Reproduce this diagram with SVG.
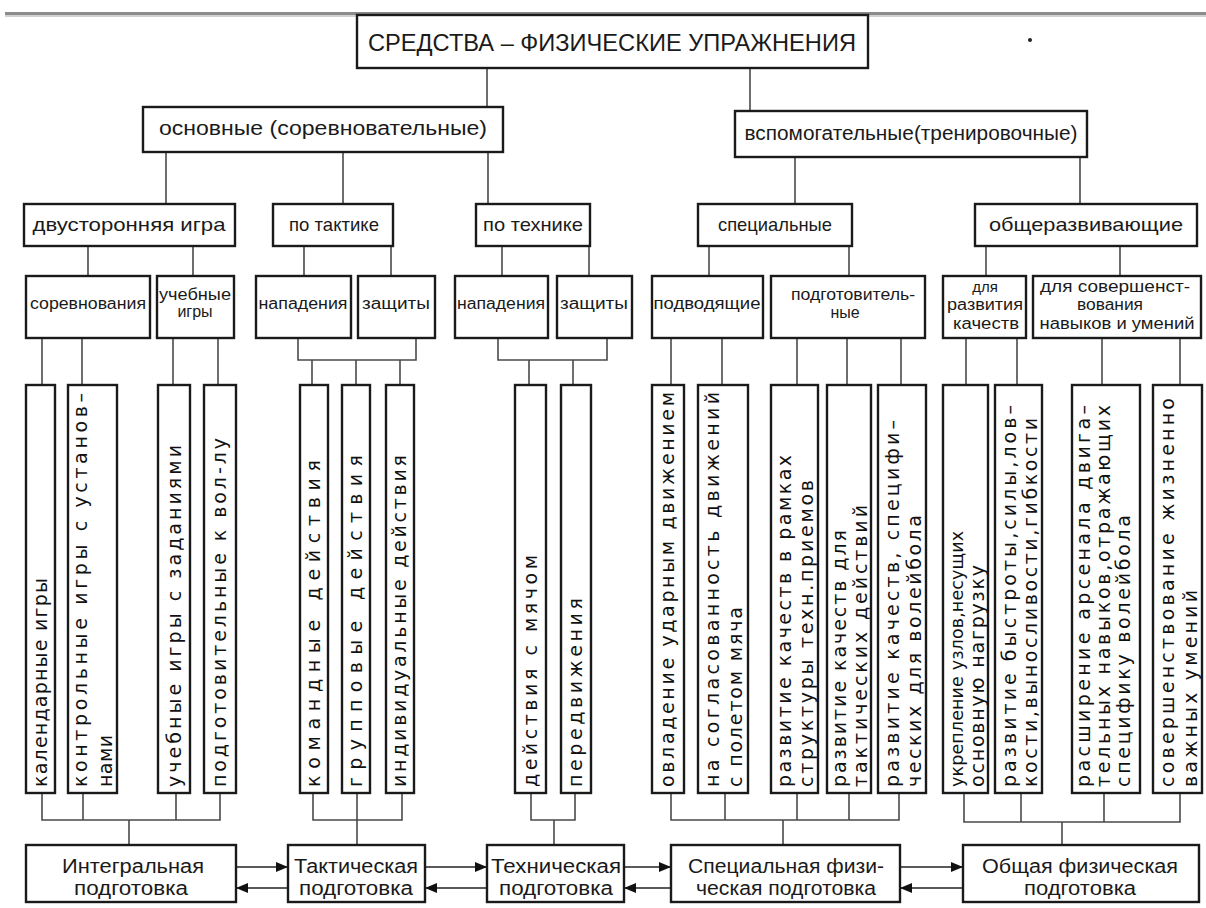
<svg xmlns="http://www.w3.org/2000/svg" width="1206" height="908" viewBox="0 0 1206 908">
<defs>
<style>
.box{fill:#fff;stroke:#1a1a1a;stroke-width:2.4}
.c{fill:none;stroke:#4a4a4a;stroke-width:1.6}
.a{fill:none;stroke:#222;stroke-width:1.6}
.h{font-family:"Liberation Sans Narrow","Liberation Sans",Arial,sans-serif;fill:#1a1a1a;text-anchor:middle}
.v{font-family:"DejaVu Sans","Liberation Sans",Arial,sans-serif;font-size:19px;fill:#111}
</style>
<marker id="ah" viewBox="0 0 12 10" refX="12" refY="5" markerWidth="12" markerHeight="10" markerUnits="userSpaceOnUse" orient="auto">
<path d="M0,0 L12,5 L0,10 Z" fill="#111"/>
</marker>
</defs>
<rect width="1206" height="908" fill="#fff"/>
<line x1="5" y1="13.5" x2="1206" y2="13.5" stroke="#8c8c8c" stroke-width="3"/>
<line x1="5" y1="16" x2="1206" y2="16" stroke="#d0d0d0" stroke-width="2"/>
<circle cx="1030" cy="40" r="2" fill="#222"/>

<g id="connectors">
<path class="c" d="M487,68 V107 M750,68 V111"/>
<path class="c" d="M166,152 V204 M343,152 V204 M488,152 V204"/>
<path class="c" d="M795,157 V204 M1080,157 V204"/>
<path class="c" d="M88,246 V276 M193,246 V276 M304,246 V276 M391,246 V276 M502,246 V276 M589,246 V276 M709,246 V276 M849,246 V276 M986,246 V276 M1120,246 V276"/>
<path class="c" d="M42,338 V385 M82,338 V385 M173,338 V385 M218,338 V385"/>
<path class="c" d="M298,338 V360 H416 V338 M312,360 V385 M356,360 V385 M400,360 V385"/>
<path class="c" d="M498,338 V360 H607 V338 M529,360 V385 M573,360 V385"/>
<path class="c" d="M671,338 V385 M722,338 V385 M797,338 V385 M847,338 V385 M901,338 V385"/>
<path class="c" d="M966,338 V385 M1017,338 V385 M1102,338 V385 M1180,338 V385"/>
<path class="c" d="M42,793 V820 H220 V793 M83,793 V820 M176,793 V820 M129,820 V845"/>
<path class="c" d="M313,793 V820 H402 V793 M357,793 V845"/>
<path class="c" d="M531,793 V820 H575 V793 M554,820 V845"/>
<path class="c" d="M671,793 V820 H899 V793 M725,793 V820 M797,793 V820 M849,793 V820 M783,820 V845"/>
<path class="c" d="M964,793 V822 H1180 V793 M1021,793 V822 M1104,793 V822 M1062,822 V845"/>
<path class="a" d="M236,867 H288" marker-end="url(#ah)"/>
<path class="a" d="M288,888 H236" marker-end="url(#ah)"/>
<path class="a" d="M425,867 H487" marker-end="url(#ah)"/>
<path class="a" d="M487,888 H425" marker-end="url(#ah)"/>
<path class="a" d="M624,867 H671" marker-end="url(#ah)"/>
<path class="a" d="M671,888 H624" marker-end="url(#ah)"/>
<path class="a" d="M900,867 H963" marker-end="url(#ah)"/>
<path class="a" d="M963,888 H900" marker-end="url(#ah)"/>
</g>

<g id="title"><rect class="box" x="357" y="15" width="511" height="53"/><text class="h" x="612" y="51" font-size="24" textLength="488" lengthAdjust="spacingAndGlyphs">СРЕДСТВА – ФИЗИЧЕСКИЕ УПРАЖНЕНИЯ</text></g>

<g id="osnovnye"><rect class="box" x="143" y="107" width="360" height="45"/><text class="h" x="323" y="135" font-size="20" textLength="328" lengthAdjust="spacingAndGlyphs">основные (соревновательные)</text></g>
<g id="vspomog"><rect class="box" x="735" y="111" width="352" height="46"/><text class="h" x="911" y="140" font-size="20" textLength="333" lengthAdjust="spacingAndGlyphs">вспомогательные(тренировочные)</text></g>

<g id="dvustor"><rect class="box" x="24" y="204" width="211" height="42"/><text class="h" x="129" y="231" font-size="19" textLength="193" lengthAdjust="spacingAndGlyphs">двусторонняя игра</text></g>
<g id="taktika"><rect class="box" x="273" y="204" width="120" height="42"/><text class="h" x="334" y="231" font-size="19" textLength="90" lengthAdjust="spacingAndGlyphs">по тактике</text></g>
<g id="tehnika"><rect class="box" x="476" y="204" width="114" height="42"/><text class="h" x="533" y="231" font-size="19" textLength="100" lengthAdjust="spacingAndGlyphs">по технике</text></g>
<g id="specialnye"><rect class="box" x="698" y="204" width="154" height="42"/><text class="h" x="775" y="231" font-size="19" textLength="114" lengthAdjust="spacingAndGlyphs">специальные</text></g>
<g id="obscherazv"><rect class="box" x="975" y="204" width="222" height="42"/><text class="h" x="1086" y="231" font-size="19" textLength="194" lengthAdjust="spacingAndGlyphs">общеразвивающие</text></g>

<g id="sorevnovaniya"><rect class="box" x="26" y="276" width="124" height="62"/><text class="h" x="88" y="309" font-size="16" textLength="116" lengthAdjust="spacingAndGlyphs">соревнования</text></g>
<g id="uchebnye"><rect class="box" x="157" y="276" width="77" height="62"/><text class="h" x="195" y="300" font-size="16" textLength="72" lengthAdjust="spacingAndGlyphs">учебные</text><text class="h" x="195" y="317" font-size="16">игры</text></g>
<g id="napadeniya1"><rect class="box" x="256" y="276" width="95" height="62"/><text class="h" x="303" y="309" font-size="16" textLength="89" lengthAdjust="spacingAndGlyphs">нападения</text></g>
<g id="zaschity1"><rect class="box" x="358" y="276" width="77" height="62"/><text class="h" x="396" y="309" font-size="16" textLength="68" lengthAdjust="spacingAndGlyphs">защиты</text></g>
<g id="napadeniya2"><rect class="box" x="455" y="276" width="93" height="62"/><text class="h" x="501" y="309" font-size="16" textLength="88" lengthAdjust="spacingAndGlyphs">нападения</text></g>
<g id="zaschity2"><rect class="box" x="557" y="276" width="75" height="62"/><text class="h" x="594" y="309" font-size="16" textLength="68" lengthAdjust="spacingAndGlyphs">защиты</text></g>
<g id="podvodyaschie"><rect class="box" x="652" y="276" width="111" height="62"/><text class="h" x="707" y="309" font-size="16" textLength="107" lengthAdjust="spacingAndGlyphs">подводящие</text></g>
<g id="podgotovit"><rect class="box" x="771" y="276" width="154" height="62"/><text class="h" x="853" y="300" font-size="16" textLength="124" lengthAdjust="spacingAndGlyphs">подготовитель-</text><text class="h" x="845" y="318" font-size="16">ные</text></g>
<g id="dlya_razv"><rect class="box" x="943" y="276" width="83" height="62"/><text class="h" x="985" y="292" font-size="15">для</text><text class="h" x="985" y="310" font-size="16" textLength="76" lengthAdjust="spacingAndGlyphs">развития</text><text class="h" x="986" y="329" font-size="16" textLength="66" lengthAdjust="spacingAndGlyphs">качеств</text></g>
<g id="dlya_sov"><rect class="box" x="1033" y="276" width="168" height="62"/><text class="h" x="1115" y="292" font-size="16" textLength="150" lengthAdjust="spacingAndGlyphs">для совершенст-</text><text class="h" x="1110" y="310" font-size="16" textLength="66" lengthAdjust="spacingAndGlyphs">вования</text><text class="h" x="1117" y="329" font-size="16" textLength="155" lengthAdjust="spacingAndGlyphs">навыков и умений</text></g>

<g id="v1"><rect class="box" x="26" y="385" width="29" height="408"/><text class="v" transform="translate(47,787) rotate(-90)" textLength="209" lengthAdjust="spacing">календарные  игры</text></g>
<g id="v2"><rect class="box" x="68" y="385" width="49" height="408"/><text class="v" transform="translate(87,787) rotate(-90)" textLength="394" lengthAdjust="spacing">контрольные игры с установ–</text><text class="v" transform="translate(112,787) rotate(-90)" textLength="52" lengthAdjust="spacing">нами</text></g>
<g id="v3"><rect class="box" x="158" y="385" width="32" height="408"/><text class="v" transform="translate(181,787) rotate(-90)" textLength="342" lengthAdjust="spacing">учебные игры с  заданиями</text></g>
<g id="v4"><rect class="box" x="204" y="385" width="32" height="408"/><text class="v" transform="translate(226,787) rotate(-90)" textLength="349" lengthAdjust="spacing">подготовительные  к  вол-лу</text></g>
<g id="v5"><rect class="box" x="300" y="385" width="28" height="408"/><text class="v" transform="translate(320,787) rotate(-90)" textLength="327" lengthAdjust="spacing">командные действия</text></g>
<g id="v6"><rect class="box" x="342" y="385" width="28" height="408"/><text class="v" transform="translate(362,787) rotate(-90)" textLength="332" lengthAdjust="spacing">групповые действия</text></g>
<g id="v7"><rect class="box" x="386" y="385" width="28" height="408"/><text class="v" transform="translate(406,787) rotate(-90)" textLength="332" lengthAdjust="spacing">индивидуальные действия</text></g>
<g id="v8"><rect class="box" x="515" y="385" width="31" height="408"/><text class="v" transform="translate(537,787) rotate(-90)" textLength="232" lengthAdjust="spacing">действия с мячом</text></g>
<g id="v9"><rect class="box" x="561" y="385" width="30" height="408"/><text class="v" transform="translate(582,787) rotate(-90)" textLength="189" lengthAdjust="spacing">передвижения</text></g>
<g id="v10"><rect class="box" x="652" y="385" width="32" height="408"/><text class="v" transform="translate(674,787) rotate(-90)" textLength="395" lengthAdjust="spacing">овладение ударным  движением</text></g>
<g id="v11"><rect class="box" x="698" y="385" width="50" height="408"/><text class="v" transform="translate(719,787) rotate(-90)" textLength="395" lengthAdjust="spacing">на согласованность движений</text><text class="v" transform="translate(742,787) rotate(-90)" textLength="180" lengthAdjust="spacing">с полетом мяча</text></g>
<g id="v12"><rect class="box" x="771" y="385" width="47" height="408"/><text class="v" transform="translate(791,787) rotate(-90)" textLength="332" lengthAdjust="spacing">развитие качеств в рамках</text><text class="v" transform="translate(813,787) rotate(-90)" textLength="307" lengthAdjust="spacing">структуры техн.приемов</text></g>
<g id="v13"><rect class="box" x="827" y="385" width="44" height="408"/><text class="v" transform="translate(846,787) rotate(-90)" textLength="257" lengthAdjust="spacing">развитие качеств для</text><text class="v" transform="translate(867,787) rotate(-90)" textLength="282" lengthAdjust="spacing">тактических действий</text></g>
<g id="v14"><rect class="box" x="878" y="385" width="48" height="408"/><text class="v" transform="translate(899,787) rotate(-90)" textLength="367" lengthAdjust="spacing">развитие качеств, специфи–</text><text class="v" transform="translate(921,787) rotate(-90)" textLength="272" lengthAdjust="spacing">ческих для волейбола</text></g>
<g id="v15"><rect class="box" x="943" y="385" width="45" height="408"/><text class="v" style="font-size:17.5px" transform="translate(963,787) rotate(-90)" textLength="256" lengthAdjust="spacing">укрепление узлов,несущих</text><text class="v" transform="translate(984,787) rotate(-90)" textLength="222" lengthAdjust="spacing">основную нагрузку</text></g>
<g id="v16"><rect class="box" x="995" y="385" width="47" height="408"/><text class="v" transform="translate(1016,787) rotate(-90)" textLength="382" lengthAdjust="spacing">развитие быстроты,силы,лов–</text><text class="v" transform="translate(1037,787) rotate(-90)" textLength="369" lengthAdjust="spacing">кости,выносливости,гибкости</text></g>
<g id="v17"><rect class="box" x="1072" y="385" width="68" height="408"/><text class="v" transform="translate(1090,787) rotate(-90)" textLength="382" lengthAdjust="spacing">расширение арсенала  двига–</text><text class="v" transform="translate(1110,787) rotate(-90)" textLength="382" lengthAdjust="spacing">тельных  навыков,отражающих</text><text class="v" transform="translate(1130,787) rotate(-90)" textLength="272" lengthAdjust="spacing">специфику волейбола</text></g>
<g id="v18"><rect class="box" x="1153" y="385" width="49" height="408"/><text class="v" transform="translate(1174,787) rotate(-90)" textLength="389" lengthAdjust="spacing">совершенствование жизненно</text><text class="v" transform="translate(1197,787) rotate(-90)" textLength="197" lengthAdjust="spacing">важных умений</text></g>

<g id="integr"><rect class="box" x="26" y="845" width="210" height="57"/><text class="h" x="133" y="873" font-size="20" textLength="142" lengthAdjust="spacingAndGlyphs">Интегральная</text><text class="h" x="131" y="895" font-size="20" textLength="114" lengthAdjust="spacingAndGlyphs">подготовка</text></g>
<g id="takt"><rect class="box" x="288" y="845" width="137" height="57"/><text class="h" x="356" y="873" font-size="20" textLength="124" lengthAdjust="spacingAndGlyphs">Тактическая</text><text class="h" x="356" y="895" font-size="20" textLength="114" lengthAdjust="spacingAndGlyphs">подготовка</text></g>
<g id="tehn"><rect class="box" x="487" y="845" width="137" height="57"/><text class="h" x="556" y="873" font-size="20" textLength="130" lengthAdjust="spacingAndGlyphs">Техническая</text><text class="h" x="556" y="895" font-size="20" textLength="114" lengthAdjust="spacingAndGlyphs">подготовка</text></g>
<g id="specfiz"><rect class="box" x="671" y="845" width="229" height="57"/><text class="h" x="786" y="873" font-size="20" textLength="196" lengthAdjust="spacingAndGlyphs">Специальная физи-</text><text class="h" x="786" y="895" font-size="20" textLength="180" lengthAdjust="spacingAndGlyphs">ческая подготовка</text></g>
<g id="obschfiz"><rect class="box" x="963" y="845" width="236" height="57"/><text class="h" x="1080" y="873" font-size="20" textLength="196" lengthAdjust="spacingAndGlyphs">Общая физическая</text><text class="h" x="1080" y="895" font-size="20" textLength="112" lengthAdjust="spacingAndGlyphs">подготовка</text></g>
</svg>
